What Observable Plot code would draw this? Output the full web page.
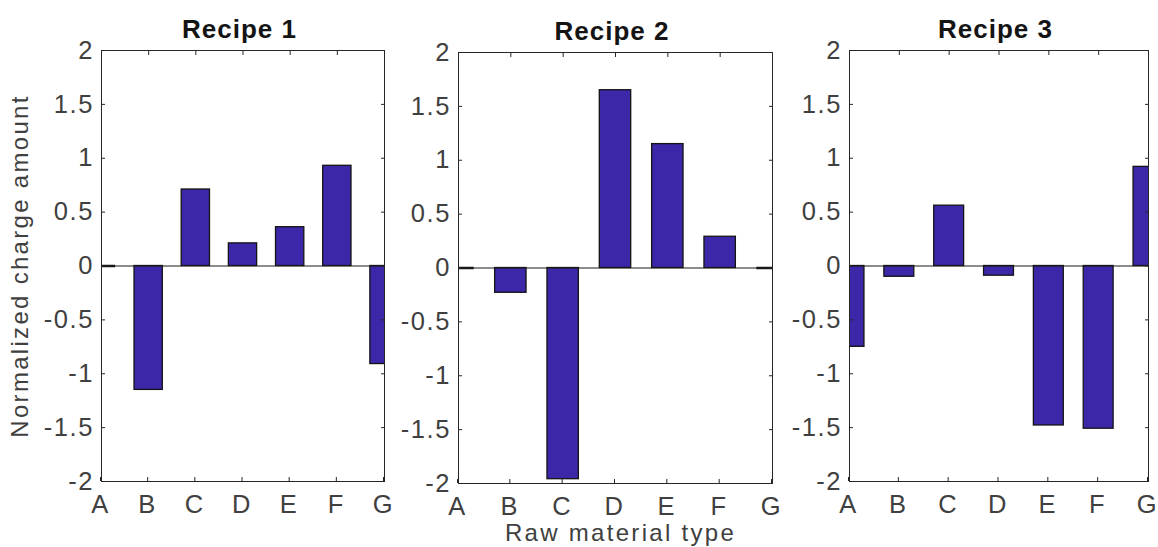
<!DOCTYPE html>
<html><head><meta charset="utf-8">
<script src="https://cdn.jsdelivr.net/npm/d3@7"></script>
<script src="https://cdn.jsdelivr.net/npm/@observablehq/plot@0.6"></script>
<style>
html,body{margin:0;padding:0;background:#fff;}
#wrap{position:relative;width:1158px;height:547px;overflow:hidden;}
#wrap svg{position:absolute;top:0;max-width:none;background:transparent;}
</style></head><body><div id="wrap"></div>
<script>
const categories = ["A","B","C","D","E","F","G"];
const recipe1 = [0, -1.15, 0.71, 0.21, 0.36, 0.93, -0.91];
const recipe2 = [0, -0.23, -1.96, 1.65, 1.15, 0.29, 0];
const recipe3 = [-0.75, -0.10, 0.56, -0.09, -1.48, -1.51, 0.92];
const yTicks = [-2, -1.5, -1, -0.5, 0, 0.5, 1, 1.5, 2];
const titles = ["Recipe 1", "Recipe 2", "Recipe 3"];
const xLabel = "Raw material type";
const yLabel = "Normalized charge amount";

const barWidth = 0.6;
const barColor = "#3c27a8";
const axisColor = "#262626";
const textColor = "#404040";
const font = "'Liberation Sans', Arial, Helvetica, sans-serif";
const tickFont = 25.5, labelFont = 24, titleFont = 26;
const tickSpacing = 1.6, labelSpacing = 2.3, titleSpacing = 1;

const panels = [
  {title: titles[0], values: recipe1, left: 0,   marginLeft: 101, frameW: 283, marginRight: 16, marginTop: 50, marginBottom: 66, yLab: true},
  {title: titles[1], values: recipe2, left: 397, marginLeft: 61,  frameW: 314, marginRight: 16, marginTop: 52, marginBottom: 64, xLab: true},
  {title: titles[2], values: recipe3, left: 788, marginLeft: 61,  frameW: 299, marginRight: 10, marginTop: 50, marginBottom: 66}
];

const wrap = document.getElementById("wrap");
const xTicks = categories.map((c, i) => i);

for (const p of panels) {
  const data = categories.map((c, i) => ({cat: c, i, value: p.values[i]}));
  const marks = [
    Plot.rect(data, {x1: d => d.i - barWidth / 2, x2: d => d.i + barWidth / 2, y1: 0, y2: "value",
      fill: barColor, stroke: "#141414", strokeWidth: 1.3, clip: true}),
    Plot.ruleY(data.filter(d => d.value === 0), {x1: d => d.i - barWidth / 2, x2: d => d.i + barWidth / 2, y: 0,
      stroke: "#141414", strokeWidth: 2.5, clip: true}),
    Plot.ruleY([0], {stroke: "#1a1a1a", strokeWidth: 1.2}),
    Plot.frame({stroke: axisColor, strokeWidth: 1}),
    Plot.axisX(xTicks, {anchor: "bottom", tickSize: -4, tickPadding: 17.5, tickFormat: i => categories[i],
      fontSize: tickFont, fill: textColor, stroke: axisColor, label: null, dx: -1}),
    Plot.axisX(xTicks, {anchor: "top", tickSize: -4, fill: "none", stroke: axisColor, label: null}),
    Plot.axisY(yTicks, {anchor: "left", tickSize: -4, tickPadding: 11.5, tickFormat: d => String(d),
      fontSize: tickFont, fill: textColor, stroke: axisColor, label: null}),
    Plot.axisY(yTicks, {anchor: "right", tickSize: -4, fill: "none", stroke: axisColor, label: null}),
    Plot.text([p.title], {frameAnchor: "top", dy: -13, dx: -3.5, lineAnchor: "bottom", fontSize: titleFont,
      fontWeight: "bold", fill: "#141414"})
  ];
  if (p.yLab) marks.push(Plot.text([yLabel], {frameAnchor: "left", rotate: -90, dx: -81, lineAnchor: "middle",
      textAnchor: "middle", fontSize: labelFont, fill: textColor}));
  if (p.xLab) marks.push(Plot.text([xLabel], {frameAnchor: "bottom", dy: 40, dx: 5, lineAnchor: "top",
      textAnchor: "middle", fontSize: labelFont, fill: textColor}));

  const svg = Plot.plot({
    width: p.marginLeft + p.frameW + p.marginRight,
    height: 547,
    marginLeft: p.marginLeft, marginRight: p.marginRight,
    marginTop: p.marginTop, marginBottom: p.marginBottom,
    x: {type: "linear", domain: [0, 6]},
    y: {type: "linear", domain: [-2, 2]},
    style: {fontFamily: font, background: "transparent", overflow: "visible"},
    marks
  });
  svg.style.left = p.left + "px";
  d3.select(svg).selectAll("text").each(function () {
    const t = this.textContent;
    let ls = tickSpacing;
    if (titles.includes(t)) ls = titleSpacing;
    else if (t === xLabel || t === yLabel) ls = labelSpacing;
    this.style.letterSpacing = ls + "px";
  });
  wrap.appendChild(svg);
}
</script></body></html>
